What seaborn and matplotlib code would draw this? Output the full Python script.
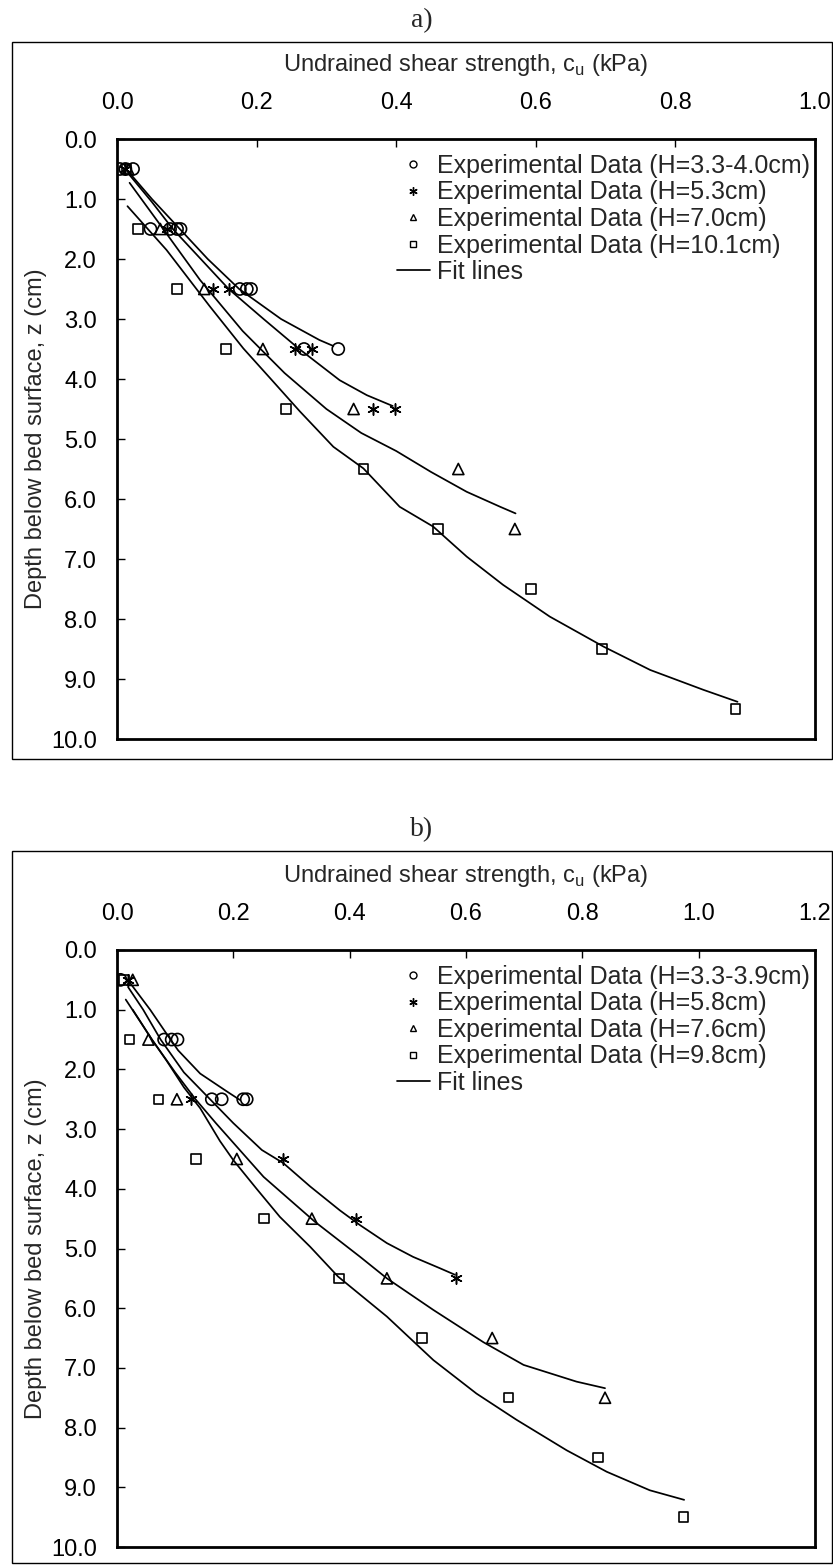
import numpy as np
import pandas as pd
import matplotlib
matplotlib.use("Agg")
import matplotlib.pyplot as plt
import matplotlib.ticker as mticker
import seaborn as sns
from matplotlib.patches import Rectangle
from matplotlib.lines import Line2D

sns.set_theme(style="white")
plt.rcParams['font.family'] = ['Liberation Sans', 'DejaVu Sans']

# ---------------- Panel a: measured shear strength (kPa) vs depth (cm) ----------------
a_labels = ["Experimental Data (H=3.3-4.0cm)", "Experimental Data (H=5.3cm)",
            "Experimental Data (H=7.0cm)", "Experimental Data (H=10.1cm)"]

a_circ_cu = [0.004, 0.012, 0.023, 0.048, 0.076, 0.086, 0.091, 0.176, 0.186, 0.192, 0.268, 0.317]
a_circ_z = [0.5, 0.5, 0.5, 1.5, 1.5, 1.5, 1.5, 2.5, 2.5, 2.5, 3.5, 3.5]
a_star_cu = [0.012, 0.071, 0.138, 0.160, 0.255, 0.279, 0.367, 0.398]
a_star_z = [0.5, 1.5, 2.5, 2.5, 3.5, 3.5, 4.5, 4.5]
a_tri_cu = [0.016, 0.062, 0.125, 0.209, 0.339, 0.489, 0.570]
a_tri_z = [0.5, 1.5, 2.5, 3.5, 4.5, 5.5, 6.5]
a_sq_cu = [0.014, 0.030, 0.086, 0.156, 0.242, 0.353, 0.460, 0.593, 0.695, 0.886]
a_sq_z = [0.5, 1.5, 2.5, 3.5, 4.5, 5.5, 6.5, 7.5, 8.5, 9.5]

# fit curves, panel a
a_fit1_cu = [0.016, 0.050, 0.090, 0.130, 0.175, 0.235, 0.290, 0.310]
a_fit1_z = [0.54, 1.00, 1.50, 2.00, 2.50, 3.00, 3.35, 3.45]
a_fit2_cu = [0.018, 0.050, 0.080, 0.120, 0.160, 0.210, 0.260, 0.319, 0.358, 0.395]
a_fit2_z = [0.60, 1.05, 1.50, 2.00, 2.50, 3.00, 3.49, 4.02, 4.27, 4.45]
a_fit3_cu = [0.018, 0.060, 0.119, 0.180, 0.240, 0.300, 0.350, 0.400, 0.450, 0.501, 0.549, 0.571]
a_fit3_z = [0.73, 1.40, 2.35, 3.20, 3.90, 4.50, 4.90, 5.20, 5.55, 5.88, 6.13, 6.24]
a_fit4_cu = [0.015, 0.071, 0.133, 0.181, 0.222, 0.262, 0.310, 0.353, 0.405, 0.453, 0.501,
             0.553, 0.620, 0.697, 0.764, 0.840, 0.889]
a_fit4_z = [1.12, 1.85, 2.79, 3.49, 4.02, 4.54, 5.13, 5.49, 6.13, 6.46, 6.96,
            7.43, 7.96, 8.46, 8.85, 9.18, 9.38]

# ---------------- Panel b ----------------
b_labels = ["Experimental Data (H=3.3-3.9cm)", "Experimental Data (H=5.8cm)",
            "Experimental Data (H=7.6cm)", "Experimental Data (H=9.8cm)"]

b_circ_cu = [0.006, 0.081, 0.094, 0.104, 0.163, 0.180, 0.217, 0.223]
b_circ_z = [0.5, 1.5, 1.5, 1.5, 2.5, 2.5, 2.5, 2.5]
b_star_cu = [0.019, 0.128, 0.286, 0.411, 0.583]
b_star_z = [0.5, 2.5, 3.5, 4.5, 5.5]
b_tri_cu = [0.027, 0.054, 0.103, 0.206, 0.335, 0.464, 0.645, 0.839]
b_tri_z = [0.5, 1.5, 2.5, 3.5, 4.5, 5.5, 6.5, 7.5]
b_sq_cu = [0.012, 0.021, 0.071, 0.136, 0.253, 0.382, 0.524, 0.673, 0.827, 0.974]
b_sq_z = [0.5, 1.5, 2.5, 3.5, 4.5, 5.5, 6.5, 7.5, 8.5, 9.5]

b_fit1_cu = [0.020, 0.057, 0.085, 0.105, 0.143, 0.189, 0.211]
b_fit1_z = [0.52, 1.00, 1.40, 1.68, 2.07, 2.37, 2.51]
b_fit2_cu = [0.019, 0.045, 0.075, 0.115, 0.160, 0.200, 0.249, 0.286, 0.332, 0.383, 0.418,
             0.464, 0.509, 0.555, 0.581]
b_fit2_z = [0.62, 1.00, 1.50, 2.05, 2.50, 2.90, 3.35, 3.57, 3.96, 4.36, 4.61,
            4.91, 5.14, 5.33, 5.44]
b_fit3_cu = [0.027, 0.060, 0.100, 0.135, 0.170, 0.211, 0.252, 0.340, 0.418, 0.464, 0.544,
             0.630, 0.699, 0.790, 0.839]
b_fit3_z = [1.00, 1.50, 2.05, 2.50, 2.90, 3.35, 3.80, 4.55, 5.14, 5.50, 6.03,
            6.57, 6.95, 7.23, 7.34]
b_fit4_cu = [0.015, 0.040, 0.060, 0.085, 0.115, 0.143, 0.177, 0.200, 0.240, 0.280, 0.332,
             0.380, 0.464, 0.544, 0.618, 0.687, 0.773, 0.842, 0.916, 0.975]
b_fit4_z = [0.83, 1.20, 1.50, 1.85, 2.30, 2.65, 3.20, 3.52, 4.00, 4.47, 4.97,
            5.47, 6.14, 6.87, 7.43, 7.87, 8.38, 8.74, 9.05, 9.21]

a_xticks = [0.0, 0.2, 0.4, 0.6, 0.8, 1.0]
b_xticks = [0.0, 0.2, 0.4, 0.6, 0.8, 1.0, 1.2]
yticks = [0.0, 1.0, 2.0, 3.0, 4.0, 5.0, 6.0, 7.0, 8.0, 9.0, 10.0]

STAR = (6, 2, 0)
MARKERS = ['o', STAR, '^', 's']
SIZES = [76, 66, 64, 46]
FS = 17
LEG_FS = 18

W, H = 833, 1565
fig = plt.figure(figsize=(W / 100, H / 100), dpi=100)


def fx(px):
    return px / W


def fy(py):
    return 1 - py / H


def panel(box_top, box_bot, ax_top, ax_bot, tag, labels, pts, fits, xmax, xticks):
    # outer frame of the panel
    fig.patches.append(Rectangle((fx(12), fy(box_bot)), fx(832) - fx(12), fy(box_top) - fy(box_bot),
                                 transform=fig.transFigure, fill=False, ec='black', lw=1.0))
    fig.text(0.5066, fy(box_top - 21), tag, ha='center', va='center',
             family='Liberation Serif', fontsize=20)
    ax = fig.add_axes([fx(117), fy(ax_bot), fx(815) - fx(117), fy(ax_top) - fy(ax_bot)])

    handles = []
    for (cu, z), lab, mk, s in zip(pts, labels, MARKERS, SIZES):
        df = pd.DataFrame({'cu': cu, 'z': z})
        if mk == STAR:
            sns.scatterplot(data=df, x='cu', y='z', marker=mk, s=s, color='black',
                            linewidth=1.1, ax=ax, legend=False, zorder=3)
        else:
            sns.scatterplot(data=df, x='cu', y='z', marker=mk, s=s, facecolor='none',
                            edgecolor='black', linewidth=1.2, ax=ax, legend=False, zorder=3)
        handles.append(Line2D([], [], ls='none', marker=mk, mfc='none', mec='black',
                              ms=5.0 if mk != STAR else 6.0, mew=1.0, label=lab))
    for cu, z in fits:
        df = pd.DataFrame({'cu': cu, 'z': z})
        sns.lineplot(data=df, x='cu', y='z', sort=False, estimator=None, color='black',
                     lw=1.25, ax=ax)
    handles.append(Line2D([], [], color='black', lw=1.25, label='Fit lines'))

    ax.set_xlim(0, xmax)
    ax.set_ylim(10, 0)
    ax.set_xticks(xticks)
    ax.set_yticks(yticks)
    ax.xaxis.set_major_formatter(mticker.FormatStrFormatter('%.1f'))
    ax.yaxis.set_major_formatter(mticker.FormatStrFormatter('%.1f'))
    ax.xaxis.tick_top()
    ax.xaxis.set_label_position('top')
    ax.tick_params(axis='both', direction='in', length=6, width=1.0, colors='black',
                   labelsize=FS, top=True, bottom=False, left=True, right=False)
    ax.tick_params(axis='x', pad=18)
    ax.tick_params(axis='y', pad=14.5)
    ax.set_xlabel('Undrained shear strength, c$_\\mathregular{u}$ (kPa)', fontsize=FS,
                  labelpad=15)
    ax.set_ylabel('Depth below bed surface, z (cm)', fontsize=FS, labelpad=3)
    for sp in ax.spines.values():
        sp.set_color('black')
        sp.set_linewidth(2.0)
    ax.legend(handles=handles, loc='upper right', bbox_to_anchor=(1.0, 1 - 10 / 600),
              frameon=False, fontsize=LEG_FS, handlelength=1.3, handletextpad=0.3,
              labelspacing=0.1, borderaxespad=0.0, borderpad=0.2)
    return ax


panel(42, 759, 139, 739, 'a)', a_labels,
      [(a_circ_cu, a_circ_z), (a_star_cu, a_star_z), (a_tri_cu, a_tri_z), (a_sq_cu, a_sq_z)],
      [(a_fit1_cu, a_fit1_z), (a_fit2_cu, a_fit2_z), (a_fit3_cu, a_fit3_z), (a_fit4_cu, a_fit4_z)],
      1.0, a_xticks)
panel(851, 1563, 950, 1547, 'b)', b_labels,
      [(b_circ_cu, b_circ_z), (b_star_cu, b_star_z), (b_tri_cu, b_tri_z), (b_sq_cu, b_sq_z)],
      [(b_fit1_cu, b_fit1_z), (b_fit2_cu, b_fit2_z), (b_fit3_cu, b_fit3_z), (b_fit4_cu, b_fit4_z)],
      1.2, b_xticks)

fig.savefig('out.png', dpi=100)
